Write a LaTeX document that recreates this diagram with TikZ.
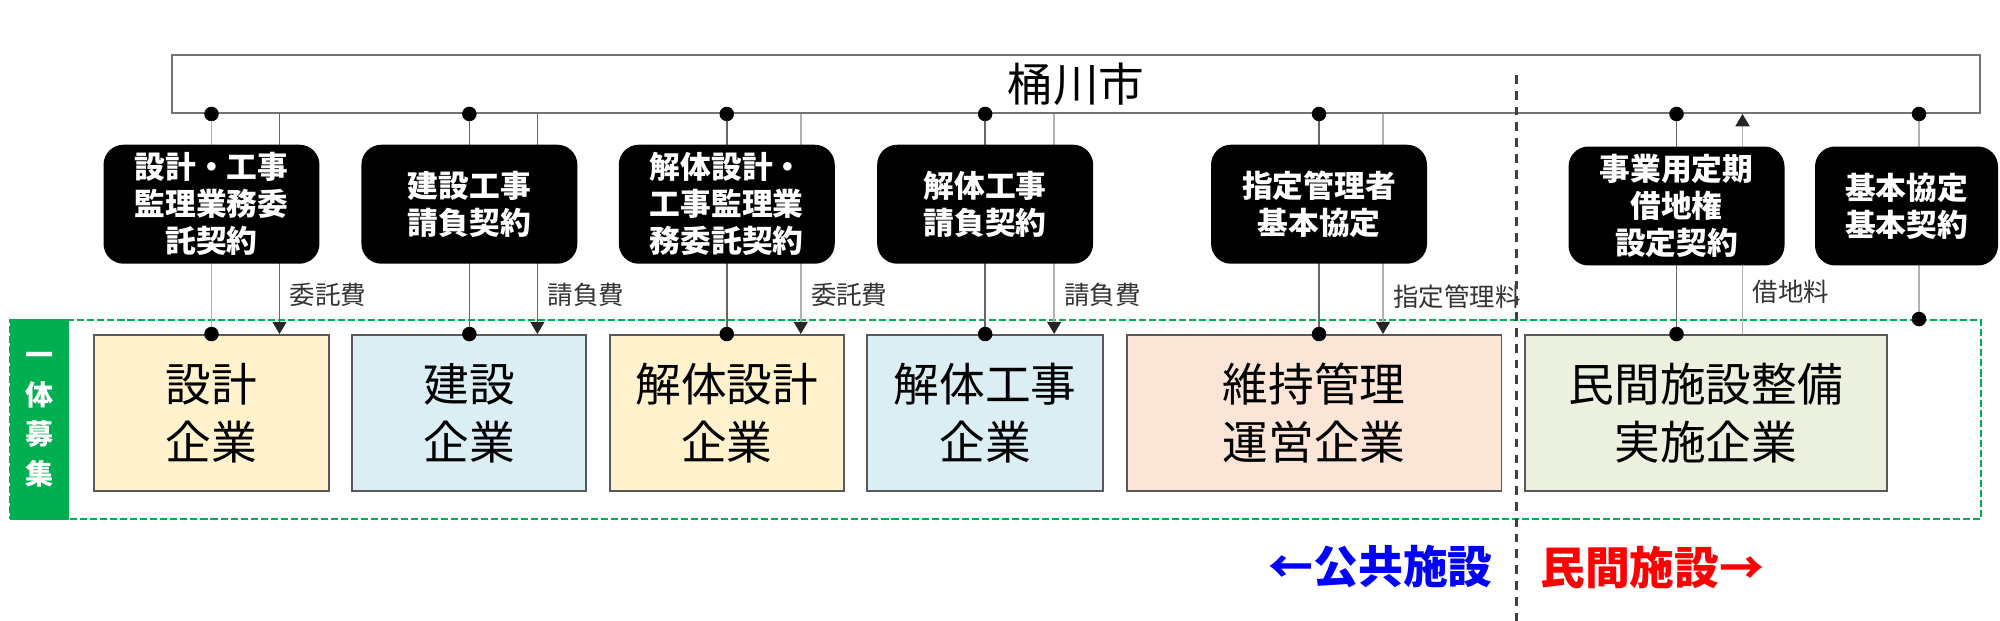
\documentclass[tikz,border=0pt]{standalone}
\usepackage{fontspec}
\setmainfont{Noto Sans CJK JP}
\usepackage{xcolor}
\usetikzlibrary{arrows.meta, positioning, calc}

\definecolor{designfill}{HTML}{FFF2CC}
\definecolor{buildfill}{HTML}{DAEEF3}
\definecolor{opsfill}{HTML}{FBE5D6}
\definecolor{privfill}{HTML}{EBF1DE}
\definecolor{groupgreen}{HTML}{00B050}

\pgfdeclarelayer{front}
\pgfsetlayers{main,front}

\begin{document}
\begin{tikzpicture}[
                x=0.02cm, y=-0.02cm,
                node distance=0.43cm,
                city/.style={draw=black!55, line width=1.1pt, minimum width=36.16cm, minimum height=1.16cm, font=\fontsize{26}{30}\selectfont},
                contract/.style={fill=black, rounded corners=0.4cm, text=white, align=center, inner sep=0pt, minimum width=4.32cm, minimum height=2.38cm, font=\fontsize{17.5}{21}\selectfont\bfseries},
                firm/.style={draw=black!65, line width=1.1pt, align=center, inner sep=0pt, minimum height=3.12cm, font=\fontsize{26}{33}\selectfont},
                recruit/.style={draw=groupgreen, line width=1.1pt, dash pattern=on 4pt off 1.7pt, minimum width=39.42cm, minimum height=3.98cm},
                tagbar/.style={fill=groupgreen, text=white, align=center, inner sep=0pt, minimum width=1.18cm, minimum height=4.02cm, font=\fontsize{16}{22.5}\selectfont\bfseries},
                fee/.style={right, xshift=2pt, text=black!80, font=\fontsize{14.5}{16}\selectfont},
                side/.style={inner sep=0pt, font=\fontsize{25.5}{28}\selectfont\bfseries},
                conn/.style={line width=1pt, draw=black!60},
                faint/.style={line width=1pt, draw=black!30},
                pay/.style={-{Triangle[length=7pt, width=8pt, color=black!85]}},
                joint/.style={circle, fill=black, inner sep=0pt, minimum size=0.29cm},
                divider/.style={draw=black!75, line width=1.7pt, dash pattern=on 5pt off 4pt}
            ]
                \useasboundingbox (0,0) rectangle (2000,621);

                % Nodes
                \node[city] (city) at (1076,84) {桶川市};
                \node[recruit] (group) at (995.5,419.5) {};
                \node[tagbar] (tag) at (39.5,419.5) {一\\体\\募\\集};

                \node[firm, fill=designfill, minimum width=4.7cm] (f1) at (211.5,413) {設計\\企業};
                \node[firm, fill=buildfill, minimum width=4.68cm, right=of f1] (f2) {建設\\企業};
                \node[firm, fill=designfill, minimum width=4.68cm, right=of f2] (f3) {解体設計\\企業};
                \node[firm, fill=buildfill, minimum width=4.72cm, right=of f3] (f4) {解体工事\\企業};
                \node[firm, fill=opsfill, minimum width=7.5cm, right=of f4] (f5) {維持管理\\運営企業};
                \node[firm, fill=privfill, minimum width=7.24cm, right=of f5] (f6) {民間施設整備\\実施企業};

                \begin{pgfonlayer}{front}
                \node[contract, above=1.4cm of f1] (k1) {設計・工事\\監理業務委\\託契約};
                \node[contract, above=1.4cm of f2] (k2) {建設工事\\請負契約};
                \node[contract, above=1.4cm of f3] (k3) {解体設計・\\工事監理業\\務委託契約};
                \node[contract, above=1.4cm of f4] (k4) {解体工事\\請負契約};
                \node[contract, above=1.4cm of f5, xshift=0.1cm] (k5) {指定管理者\\基本協定};
                \node[contract] (k6) at (1676.5,206) {事業用定期\\借地権\\設定契約};
                \node[contract, minimum width=3.66cm] (k7) at (1906.5,206) {基本協定\\基本契約};
                \end{pgfonlayer}

                % Edges
                \draw[faint] (k1 |- city.south) node[joint] {} -- (k1 |- f1.north) node[joint] {};
                \draw[conn, pay] ($(k1 |- city.south)+(68,0)$) -- node[fee, pos=0.82] {委託費} ($(k1 |- f1.north)+(68,0)$);
                \draw[conn] (k2 |- city.south) node[joint] {} -- (k2 |- f2.north) node[joint] {};
                \draw[conn, pay] ($(k2 |- city.south)+(68,0)$) -- node[fee, pos=0.82] {請負費} ($(k2 |- f2.north)+(68,0)$);
                \draw[conn] (k3 |- city.south) node[joint] {} -- (k3 |- f3.north) node[joint] {};
                \draw[faint, pay] ($(k3 |- city.south)+(74,0)$) -- node[fee, pos=0.82] {委託費} ($(k3 |- f3.north)+(74,0)$);
                \draw[conn] (k4 |- city.south) node[joint] {} -- (k4 |- f4.north) node[joint] {};
                \draw[faint, pay] ($(k4 |- city.south)+(69,0)$) -- node[fee, pos=0.82] {請負費} ($(k4 |- f4.north)+(69,0)$);
                \draw[conn] (k5 |- city.south) node[joint] {} -- (k5 |- f5.north) node[joint] {};
                \draw[faint, pay] ($(k5 |- city.south)+(64,0)$) -- node[fee, pos=0.83] {指定管理料} ($(k5 |- f5.north)+(64,0)$);
                \draw[conn] (k6 |- city.south) node[joint] {} -- (k6 |- f6.north) node[joint] {};
                \draw[faint, pay] ($(k6 |- f6.north)+(66,0)$) -- node[fee, pos=0.19] {借地料} ($(k6 |- city.south)+(66,0)$);
                \draw[faint] ($(k7 |- city.south)+(12.5,0)$) node[joint] {} -- ($(k7 |- group.north)+(12.5,0)$) node[joint] {};

                % Public / private split
                \coordinate (divtop) at (1516,75);
                \coordinate (divbot) at (1516,621);
                \draw[divider] (divtop) -- (divbot);
                \node[side, text=blue, anchor=east] (pub) at ($(divbot)+(-23,-54)$) {←公共施設};
                \node[side, text=red, anchor=west] (priv) at ($(divbot)+(24,-54)$) {民間施設→};
            \end{tikzpicture}
\end{document}
